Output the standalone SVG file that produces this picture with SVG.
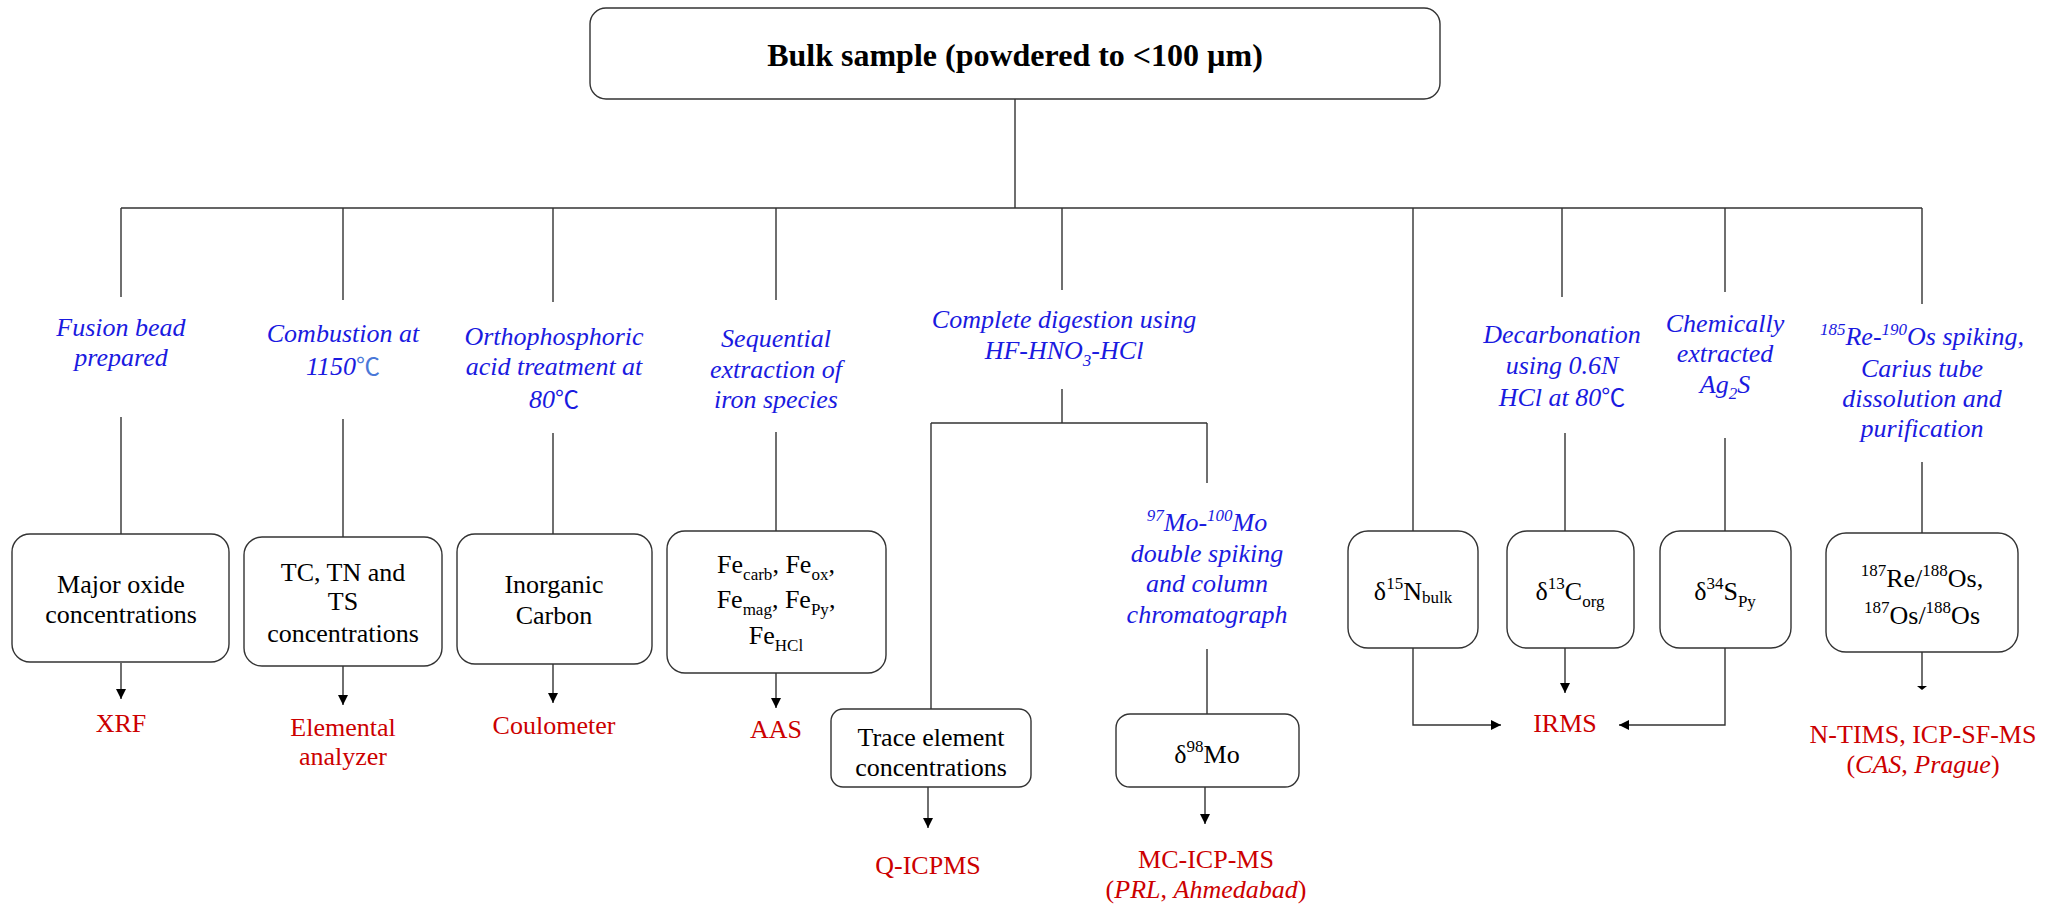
<svg xmlns="http://www.w3.org/2000/svg" width="2060" height="904" viewBox="0 0 2060 904">
<style>
.ln{stroke:#333;stroke-width:1.4;fill:none}
.box{fill:#fff;stroke:#333;stroke-width:1.4}
.t{font-family:'Liberation Serif',serif;font-size:26px;fill:#000;text-anchor:middle}
.b{fill:#1a1ae0;font-style:italic}
.r{fill:#cc0000}
.s{font-size:17px}
.deg{font-family:'Noto Sans CJK SC',serif;font-style:normal;font-size:24px}
.title{font-size:32px;font-weight:bold}
</style>
<defs>
<marker id="ah" markerWidth="10" markerHeight="10" refX="10" refY="5" orient="auto" markerUnits="userSpaceOnUse"><path d="M0,0 L10,5 L0,10 z" fill="#000"/></marker>
</defs>
<rect width="2060" height="904" fill="#fff"/>

<g id="connectors">
<path class="ln" d="M1015,99 V208 M121,208 H1922"/>
<path class="ln" d="M121,208 V297 M343,208 V300 M553,208 V302 M776,208 V300 M1062,208 V290 M1413,208 V531 M1562,208 V297 M1725,208 V292 M1922,208 V304"/>
<path class="ln" d="M121,417 V534 M343,419 V537 M553,433 V534 M776,432 V531 M1062,389 V423 M931,423 H1207 M931,423 V709 M1207,423 V483 M1207,649 V714 M1565,433 V531 M1725,438 V531 M1922,462 V533"/>
<path class="ln" marker-end="url(#ah)" d="M121,663 V699"/>
<path class="ln" marker-end="url(#ah)" d="M343,666 V705"/>
<path class="ln" marker-end="url(#ah)" d="M553,664 V703"/>
<path class="ln" marker-end="url(#ah)" d="M776,673 V708"/>
<path class="ln" marker-end="url(#ah)" d="M928,787 V828"/>
<path class="ln" marker-end="url(#ah)" d="M1205,787 V824"/>
<path class="ln" marker-end="url(#ah)" d="M1565,648 V693"/>
<path class="ln" marker-end="url(#ah)" d="M1413,648 V725 H1501"/>
<path class="ln" marker-end="url(#ah)" d="M1725,648 V725 H1619"/>
<path class="ln" d="M1922,652 V687"/>
<path d="M1917,686 H1927 L1922,690 z" fill="#000"/>
</g>

<g id="bulk">
<rect class="box" x="590" y="8" width="850" height="91" rx="16"/>
<text class="t title" x="1015" y="66">Bulk sample (powdered to &lt;100 µm)</text>
</g>

<g id="labels-methods">
<text class="t b" x="121" y="336">Fusion bead</text>
<text class="t b" x="121" y="366">prepared</text>
<text class="t b" x="343" y="342">Combustion at</text>
<text class="t b" x="343" y="375">1150<tspan class="deg" fill="#4a78d8">℃</tspan></text>
<text class="t b" x="554" y="345">Orthophosphoric</text>
<text class="t b" x="554" y="375">acid treatment at</text>
<text class="t b" x="554" y="408">80<tspan class="deg">℃</tspan></text>
<text class="t b" x="776" y="347">Sequential</text>
<text class="t b" x="776" y="378">extraction of</text>
<text class="t b" x="776" y="408">iron species</text>
<text class="t b" x="1064" y="328">Complete digestion using</text>
<text class="t b" x="1064" y="359">HF-HNO<tspan class="s" dy="7">3</tspan><tspan dy="-7">-HCl</tspan></text>
<text class="t b" x="1207" y="531"><tspan class="s" dy="-10">97</tspan><tspan dy="10">Mo-</tspan><tspan class="s" dy="-10">100</tspan><tspan dy="10">Mo</tspan></text>
<text class="t b" x="1207" y="562">double spiking</text>
<text class="t b" x="1207" y="592">and column</text>
<text class="t b" x="1207" y="623">chromatograph</text>
<text class="t b" x="1562" y="343">Decarbonation</text>
<text class="t b" x="1562" y="374">using 0.6N</text>
<text class="t b" x="1562" y="406">HCl at 80<tspan class="deg">℃</tspan></text>
<text class="t b" x="1725" y="332">Chemically</text>
<text class="t b" x="1725" y="362">extracted</text>
<text class="t b" x="1725" y="393">Ag<tspan class="s" dy="6">2</tspan><tspan dy="-6">S</tspan></text>
<text class="t b" x="1922" y="345"><tspan class="s" dy="-10">185</tspan><tspan dy="10">Re-</tspan><tspan class="s" dy="-10">190</tspan><tspan dy="10">Os spiking,</tspan></text>
<text class="t b" x="1922" y="377">Carius tube</text>
<text class="t b" x="1922" y="407">dissolution and</text>
<text class="t b" x="1922" y="437">purification</text>
</g>

<g id="major-oxide">
<rect class="box" x="12" y="534" width="217" height="128" rx="18"/>
<text class="t" x="121" y="593">Major oxide</text>
<text class="t" x="121" y="623">concentrations</text>
<text class="t r" x="121" y="732">XRF</text>
</g>

<g id="tc-tn-ts">
<rect class="box" x="244" y="537" width="198" height="129" rx="18"/>
<text class="t" x="343" y="581">TC, TN and</text>
<text class="t" x="343" y="610">TS</text>
<text class="t" x="343" y="642">concentrations</text>
<text class="t r" x="343" y="736">Elemental</text>
<text class="t r" x="343" y="765">analyzer</text>
</g>

<g id="inorganic-carbon">
<rect class="box" x="457" y="534" width="195" height="130" rx="18"/>
<text class="t" x="554" y="593">Inorganic</text>
<text class="t" x="554" y="624">Carbon</text>
<text class="t r" x="554" y="734">Coulometer</text>
</g>

<g id="fe-species">
<rect class="box" x="667" y="531" width="219" height="142" rx="18"/>
<text class="t" x="776" y="573">Fe<tspan class="s" dy="7">carb</tspan><tspan dy="-7">, Fe</tspan><tspan class="s" dy="7">ox</tspan><tspan dy="-7">,</tspan></text>
<text class="t" x="776" y="608">Fe<tspan class="s" dy="7">mag</tspan><tspan dy="-7">, Fe</tspan><tspan class="s" dy="7">Py</tspan><tspan dy="-7">,</tspan></text>
<text class="t" x="776" y="644">Fe<tspan class="s" dy="7">HCl</tspan></text>
<text class="t r" x="776" y="738">AAS</text>
</g>

<g id="trace-elements">
<rect class="box" x="831" y="709" width="200" height="78" rx="12"/>
<text class="t" x="931" y="746">Trace element</text>
<text class="t" x="931" y="776">concentrations</text>
<text class="t r" x="928" y="874">Q-ICPMS</text>
</g>

<g id="mo-isotope">
<rect class="box" x="1116" y="714" width="183" height="73" rx="14"/>
<text class="t" x="1207" y="763">δ<tspan class="s" dy="-11">98</tspan><tspan dy="11">Mo</tspan></text>
<text class="t r" x="1206" y="868">MC-ICP-MS</text>
<text class="t r" x="1206" y="898">(<tspan font-style="italic">PRL</tspan>, <tspan font-style="italic">Ahmedabad</tspan>)</text>
</g>

<g id="n-isotope">
<rect class="box" x="1348" y="531" width="130" height="117" rx="20"/>
<text class="t" x="1413" y="600">δ<tspan class="s" dy="-11">15</tspan><tspan dy="11">N</tspan><tspan class="s" dy="3">bulk</tspan></text>
</g>

<g id="c-isotope">
<rect class="box" x="1507" y="531" width="127" height="117" rx="20"/>
<text class="t" x="1570" y="600">δ<tspan class="s" dy="-11">13</tspan><tspan dy="11">C</tspan><tspan class="s" dy="7">org</tspan></text>
<text class="t r" x="1565" y="732">IRMS</text>
</g>

<g id="s-isotope">
<rect class="box" x="1660" y="531" width="131" height="117" rx="20"/>
<text class="t" x="1725" y="600">δ<tspan class="s" dy="-11">34</tspan><tspan dy="11">S</tspan><tspan class="s" dy="7">Py</tspan></text>
</g>

<g id="re-os">
<rect class="box" x="1826" y="533" width="192" height="119" rx="20"/>
<text class="t" x="1922" y="587"><tspan class="s" dy="-11">187</tspan><tspan dy="11">Re/</tspan><tspan class="s" dy="-11">188</tspan><tspan dy="11">Os,</tspan></text>
<text class="t" x="1922" y="624"><tspan class="s" dy="-11">187</tspan><tspan dy="11">Os/</tspan><tspan class="s" dy="-11">188</tspan><tspan dy="11">Os</tspan></text>
<text class="t r" x="1923" y="743">N-TIMS, ICP-SF-MS</text>
<text class="t r" x="1923" y="773">(<tspan font-style="italic">CAS</tspan>, <tspan font-style="italic">Prague</tspan>)</text>
</g>
</svg>
